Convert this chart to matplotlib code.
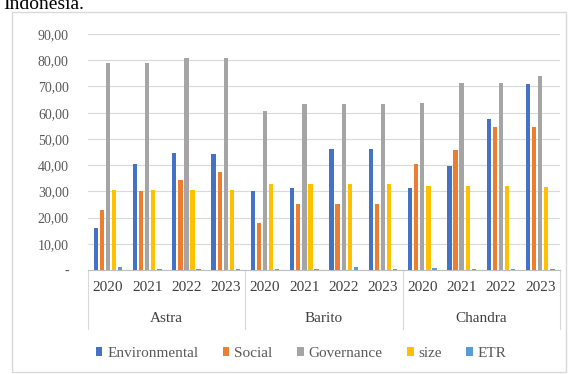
import numpy as np
import matplotlib.pyplot as plt
from matplotlib.lines import Line2D
from matplotlib.patches import Rectangle

companies = ["Astra", "Barito", "Chandra"]
years = ["2020", "2021", "2022", "2023"]
series = ["Environmental", "Social", "Governance", "size", "ETR"]

environmental = [16.0, 40.4, 44.6, 44.2, 30.0, 31.3, 46.0, 46.0, 31.3, 39.7, 57.6, 71.0]
social = [23.0, 30.0, 34.3, 37.4, 18.0, 25.0, 25.0, 25.0, 40.4, 45.8, 54.6, 54.6]
governance = [79.0, 79.0, 81.0, 81.0, 60.7, 63.4, 63.4, 63.4, 63.7, 71.4, 71.4, 74.0]
size = [30.5, 30.5, 30.5, 30.5, 32.8, 32.8, 32.8, 32.8, 32.0, 32.0, 32.0, 31.8]
etr = [1.2, 0.3, 0.3, 0.3, 0.3, 0.3, 1.0, 0.3, 0.6, 0.3, 0.3, 0.3]

colors = ["#4472C4", "#ED7D31", "#A5A5A5", "#FFC000", "#5B9BD5"]

plt.rcParams['font.family'] = ['Liberation Serif', 'DejaVu Serif']

fig = plt.figure(figsize=(5.69, 3.74), dpi=100)
ax = fig.add_axes([0.155, 0.278, 0.829, 0.631])

x = np.arange(len(environmental))
values = [environmental, social, governance, size, etr]
step = 0.155
width = 0.11
for i, (name, vals) in enumerate(zip(series, values)):
    ax.bar(x + (i - 2) * step, vals, width, color=colors[i], label=name, zorder=3)

ax.set_xlim(-0.5, 11.5)
ax.set_ylim(0, 90)
ax.set_yticks(np.arange(0, 91, 10))
ax.set_yticklabels(["-"] + [f"{v},00" for v in range(10, 91, 10)])
ax.grid(axis='y', color='#D9D9D9', linewidth=0.8, zorder=0)
for s in ['top', 'right', 'left']:
    ax.spines[s].set_visible(False)
ax.spines['bottom'].set_color('#BFBFBF')
ax.tick_params(axis='y', length=0, labelsize=10, labelcolor='#595959', pad=14)
ax.set_xticks(x)
ax.set_xticklabels(years * 3, fontsize=11, color='#404040')
ax.tick_params(axis='x', length=0, pad=8)

# group labels and separators
trans = ax.get_xaxis_transform()
for k, name in enumerate(companies):
    ax.text(4 * k + 1.5, -0.205, name, transform=trans, ha='center', va='center',
            fontsize=11, color='#404040')
for b in [-0.5, 3.5, 7.5, 11.5]:
    ax.add_line(Line2D([b, b], [0, -0.25], transform=trans, color='#D9D9D9',
                       linewidth=0.8, clip_on=False))

leg = fig.legend(loc='center', bbox_to_anchor=(0.529, 0.055), ncol=5, frameon=False,
                 fontsize=11, handlelength=0.45, handleheight=0.45, handletextpad=0.3,
                 columnspacing=1.6)
for t in leg.get_texts():
    t.set_color('#595959')

# chart frame
fig.patches.append(Rectangle((12 / 569, 0.005), 554 / 569, 1 - 12 / 374 - 0.005,
                             transform=fig.transFigure, fill=False,
                             edgecolor='#D9D9D9', linewidth=1))
fig.text(0.005, 1 - 9 / 374, "Indonesia.", fontsize=14, va='baseline', ha='left',
         color='black')

fig.savefig("out.png", dpi=100)
